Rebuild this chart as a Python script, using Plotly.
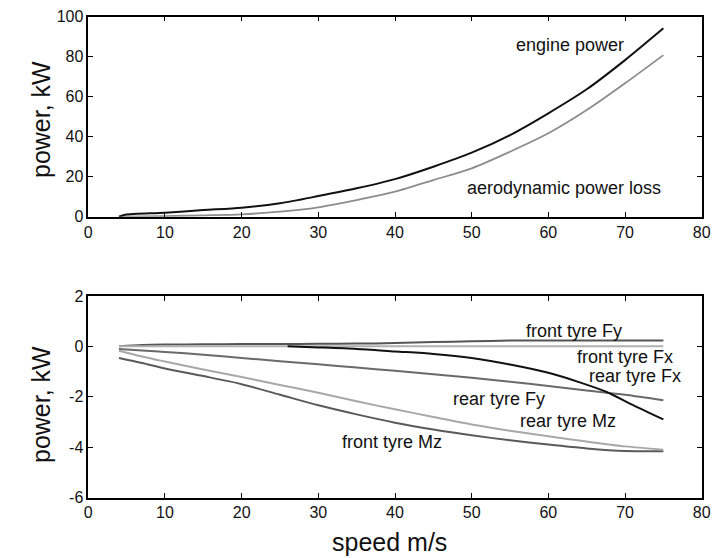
import plotly.graph_objects as go

# ---- top panel data ----
speed_engine = [4, 4.8, 10, 15, 20, 25, 30, 35, 40, 45, 50, 55, 60, 65, 70, 75]
engine_power = [0, 1.0, 2.0, 3.3, 4.5, 6.7, 10.3, 14.2, 18.8, 25.0, 32.0, 40.8, 51.7, 63.7, 78.3, 94.2]
speed_aero = [4, 10, 15, 20, 25, 30, 35, 40, 45, 50, 55, 60, 65, 70, 75]
aero_loss = [0, 0.3, 0.7, 1.2, 2.5, 4.7, 8.3, 12.5, 18.3, 24.2, 32.5, 41.7, 53.3, 66.7, 80.8]

# ---- bottom panel data ----
speed_tyre = [4, 7, 10, 15, 20, 25, 30, 35, 40, 45, 50, 55, 60, 65, 70, 75]
front_Fy = [0, 0.05, 0.07, 0.08, 0.09, 0.09, 0.10, 0.11, 0.13, 0.17, 0.20, 0.23, 0.23, 0.23, 0.23, 0.23]
front_Fx = [0, 0, 0, 0, 0, 0, 0, 0, 0, 0, 0, 0, 0, 0, 0, 0]
rear_Fy = [-0.10, -0.16, -0.22, -0.33, -0.46, -0.59, -0.71, -0.84, -0.97, -1.11, -1.25, -1.40, -1.57, -1.75, -1.92, -2.14]
rear_Mz = [-0.17, -0.40, -0.60, -0.92, -1.22, -1.53, -1.84, -2.18, -2.50, -2.80, -3.10, -3.35, -3.57, -3.78, -3.97, -4.10]
front_Mz = [-0.46, -0.66, -0.88, -1.18, -1.50, -1.92, -2.34, -2.70, -3.03, -3.30, -3.53, -3.73, -3.90, -4.05, -4.15, -4.16]
speed_rearFx = [26, 30, 35, 40, 45, 50, 55, 60, 64, 67.6, 70.7, 75]
rear_Fx = [0, -0.04, -0.10, -0.20, -0.30, -0.46, -0.72, -1.05, -1.42, -1.81, -2.28, -2.90]

x_ticks = [0, 10, 20, 30, 40, 50, 60, 70, 80]
top_y_ticks = [0, 20, 40, 60, 80, 100]
bot_y_ticks = [2, 0, -2, -4, -6]
bot_y_text = ["2", "0", "-2", "-4", "-6"]

W, H = 712, 558
FONT = "Liberation Sans, Arial, sans-serif"

fig = go.Figure()

def line(x, y, color, width, xa, ya):
    fig.add_trace(go.Scatter(x=x, y=y, mode="lines", line=dict(color=color, width=width, shape="spline", smoothing=0.8),
                             xaxis=xa, yaxis=ya, showlegend=False, hoverinfo="skip"))

line(speed_aero, aero_loss, "#8c8c8c", 1.8, "x", "y")
line(speed_engine, engine_power, "#111111", 2.0, "x", "y")

line(speed_tyre, front_Mz, "#5a5a5a", 2.0, "x2", "y2")
line(speed_tyre, rear_Mz, "#a8a8a8", 2.0, "x2", "y2")
line(speed_tyre, rear_Fy, "#6a6a6a", 2.0, "x2", "y2")
line(speed_tyre, front_Fy, "#555555", 2.0, "x2", "y2")
line(speed_tyre, front_Fx, "#b0b0b0", 2.0, "x2", "y2")
line(speed_rearFx, rear_Fx, "#111111", 2.0, "x2", "y2")

xdom = [88.3 / W, 701.7 / W]
top_dom = [1 - 216.7 / H, 1 - 16.7 / H]
bot_dom = [1 - 497.5 / H, 1 - 296.0 / H]

axis_common = dict(showgrid=False, zeroline=False, showline=True, linecolor="black", linewidth=1.5,
                   mirror="ticks", ticks="inside", ticklen=5, tickwidth=1.3, tickcolor="black",
                   tickfont=dict(family=FONT, size=16, color="#111111"), automargin=False)

fig.update_layout(
    width=W, height=H, margin=dict(l=0, r=0, t=0, b=0),
    paper_bgcolor="white", plot_bgcolor="white",
    xaxis=dict(domain=xdom, range=[0, 80], tickvals=x_ticks, anchor="y", **axis_common),
    yaxis=dict(domain=top_dom, range=[0, 100], tickvals=top_y_ticks, anchor="x", **axis_common),
    xaxis2=dict(domain=xdom, range=[0, 80], tickvals=x_ticks, anchor="y2", **axis_common),
    yaxis2=dict(domain=bot_dom, range=[-6, 2], tickvals=bot_y_ticks, ticktext=bot_y_text, anchor="x2", **axis_common),
)

def label(text, x, y, xa, ya):
    fig.add_annotation(text=text, x=x, y=y, xref=xa, yref=ya, showarrow=False,
                       font=dict(family=FONT, size=18, color="#111111"), xanchor="center", yanchor="middle")

label("engine power", 62.8, 85.8, "x", "y")
label("aerodynamic power loss", 62.1, 14.2, "x", "y")
label("front tyre Fy", 63.4, 0.62, "x2", "y2")
label("front tyre Fx", 70.0, -0.44, "x2", "y2")
label("rear tyre Fx", 71.3, -1.16, "x2", "y2")
label("rear tyre Fy", 53.5, -2.08, "x2", "y2")
label("rear tyre Mz", 62.5, -2.98, "x2", "y2")
label("front tyre Mz", 39.6, -3.78, "x2", "y2")

# axis titles
title_font = dict(family=FONT, size=25, color="#111111")
fig.add_annotation(text="power, kW", x=41 / W, y=1 - 120 / H, xref="paper", yref="paper", showarrow=False,
                   textangle=-90, font=title_font, xanchor="center", yanchor="middle")
fig.add_annotation(text="power, kW", x=41 / W, y=1 - 405 / H, xref="paper", yref="paper", showarrow=False,
                   textangle=-90, font=title_font, xanchor="center", yanchor="middle")
fig.add_annotation(text="speed m/s", x=390 / W, y=1 - 542 / H, xref="paper", yref="paper", showarrow=False,
                   font=title_font, xanchor="center", yanchor="middle")

fig.write_html("out.html")
